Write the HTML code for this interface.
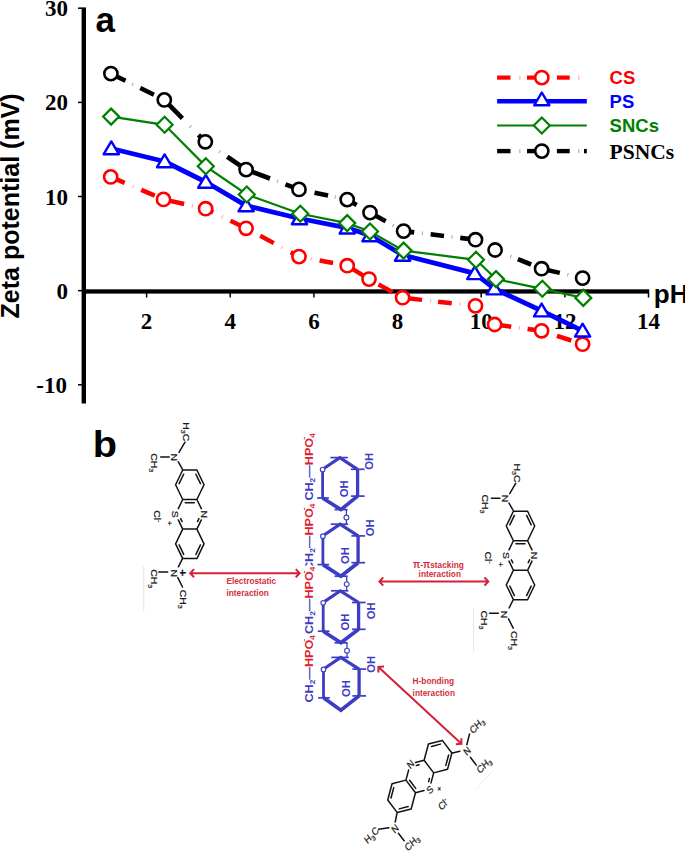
<!DOCTYPE html><html><head><meta charset="utf-8"><style>html,body{margin:0;padding:0;background:#fff;overflow:hidden;}svg{display:block;}</style></head><body><svg width="685" height="854" viewBox="0 0 685 854">
<rect width="685" height="854" fill="#fff"/>
<rect x="81.6" y="7.4" width="4.4" height="396.1" fill="#000"/>
<line x1="78" y1="8.2" x2="82" y2="8.2" stroke="#000" stroke-width="1.5"/>
<line x1="78" y1="102.4" x2="82" y2="102.4" stroke="#000" stroke-width="1.5"/>
<line x1="78" y1="196.5" x2="82" y2="196.5" stroke="#000" stroke-width="1.5"/>
<line x1="78" y1="290.65" x2="82" y2="290.65" stroke="#000" stroke-width="1.5"/>
<line x1="78" y1="384.8" x2="82" y2="384.8" stroke="#000" stroke-width="1.5"/>
<rect x="82" y="289.3" width="567.2" height="4.3" fill="#000"/>
<line x1="146.6" y1="293" x2="146.6" y2="297.5" stroke="#000" stroke-width="1.5"/>
<line x1="230.2" y1="293" x2="230.2" y2="297.5" stroke="#000" stroke-width="1.5"/>
<line x1="313.9" y1="293" x2="313.9" y2="297.5" stroke="#000" stroke-width="1.5"/>
<line x1="397.6" y1="293" x2="397.6" y2="297.5" stroke="#000" stroke-width="1.5"/>
<line x1="481.2" y1="293" x2="481.2" y2="297.5" stroke="#000" stroke-width="1.5"/>
<line x1="564.9" y1="293" x2="564.9" y2="297.5" stroke="#000" stroke-width="1.5"/>
<line x1="648.5" y1="293" x2="648.5" y2="297.5" stroke="#000" stroke-width="1.5"/>
<text transform="translate(68.0,16.2) scale(1,1.03)" font-family="Liberation Serif" font-weight="bold" font-size="23" text-anchor="end">30</text>
<text transform="translate(68.0,110.4) scale(1,1.03)" font-family="Liberation Serif" font-weight="bold" font-size="23" text-anchor="end">20</text>
<text transform="translate(68.0,204.5) scale(1,1.03)" font-family="Liberation Serif" font-weight="bold" font-size="23" text-anchor="end">10</text>
<text transform="translate(68.0,298.6) scale(1,1.03)" font-family="Liberation Serif" font-weight="bold" font-size="23" text-anchor="end">0</text>
<text transform="translate(66.9,392.8) scale(1,1.03)" font-family="Liberation Serif" font-weight="bold" font-size="23" text-anchor="end">-10</text>
<text transform="translate(146.6,329.2) scale(1,1.03)" font-family="Liberation Serif" font-weight="bold" font-size="23" text-anchor="middle">2</text>
<text transform="translate(230.2,329.2) scale(1,1.03)" font-family="Liberation Serif" font-weight="bold" font-size="23" text-anchor="middle">4</text>
<text transform="translate(313.9,329.2) scale(1,1.03)" font-family="Liberation Serif" font-weight="bold" font-size="23" text-anchor="middle">6</text>
<text transform="translate(397.6,329.2) scale(1,1.03)" font-family="Liberation Serif" font-weight="bold" font-size="23" text-anchor="middle">8</text>
<text transform="translate(481.2,329.2) scale(1,1.03)" font-family="Liberation Serif" font-weight="bold" font-size="23" text-anchor="middle">10</text>
<text transform="translate(564.9,329.2) scale(1,1.03)" font-family="Liberation Serif" font-weight="bold" font-size="23" text-anchor="middle">12</text>
<text transform="translate(648.5,329.2) scale(1,1.03)" font-family="Liberation Serif" font-weight="bold" font-size="23" text-anchor="middle">14</text>
<text x="653.8" y="302.9" font-family="Liberation Sans" font-weight="bold" font-size="26">pH</text>
<text x="95.5" y="32.3" font-family="Liberation Sans" font-weight="bold" font-size="35">a</text>
<text transform="translate(18.7,318.4) rotate(-90)" font-family="Liberation Sans" font-weight="bold" font-size="25">Zeta potential (mV)</text>
<path d="M110.70,176.90L124.69,182.86M141.22,189.91L154.78,195.68M163.50,199.40L184.13,203.96M205.60,208.70L213.22,212.39M230.44,220.72L246.10,228.30M260.21,235.85L273.83,243.13M290.68,252.15L299.00,256.60M319.61,260.49L333.06,263.03M347.20,265.70L369.00,279.10M378.52,284.37L392.58,292.15M402.60,297.70L422.10,299.87M438.10,301.64L451.76,303.16M494.60,324.50L511.23,326.73M527.59,328.92L541.60,330.80M556.93,335.81L571.30,340.51" stroke="#ff0000" stroke-width="4.5" fill="none"/><path d="M132.74,186.29L133.66,186.69M191.88,205.67L192.86,205.89M221.89,216.58L222.79,217.02M281.54,247.26L282.42,247.73M310.70,258.81L311.68,258.99M430.17,300.76L431.16,300.87M459.69,304.04L460.69,304.15M518.87,327.75L519.86,327.89" stroke="#ff0000" stroke-width="3.6" fill="none" opacity="0.35"/>
<polyline points="111.3,148.5 164.6,161.5 205.8,182.0 246.1,205.6 299.5,218.5 347.2,227.8 370.0,235.5 402.6,255.0 474.8,273.4 494.3,288.7 541.6,310.7 582.6,330.8" fill="none" stroke="#0000ff" stroke-width="4.8" stroke-linejoin="round"/>
<polyline points="111.1,116.6 164.6,124.8 205.8,166.3 246.8,194.5 300.3,213.8 347.2,223.1 370.0,231.5 403.6,250.6 476.0,259.8 496.0,279.1 542.3,288.8 583.3,297.9" fill="none" stroke="#008000" stroke-width="2.2"/>
<path d="M110.90,73.60L125.50,80.79M140.27,88.06L153.94,94.80M164.30,99.90L182.40,118.40M198.47,134.82L205.30,141.80M227.26,156.76L246.10,169.60M246.10,169.60L269.93,178.52M285.46,184.33L299.00,189.40M314.52,192.68L328.08,195.55M347.20,199.60L356.71,205.02M370.00,212.60L385.65,221.22M403.60,231.10L414.24,232.37M430.67,234.34L444.02,235.94M460.21,237.87L475.50,239.70M517.88,259.16L531.16,264.50M541.60,268.70L559.80,272.87" stroke="#000000" stroke-width="4.6" fill="none"/><path d="M132.07,84.03L132.97,84.47M190.11,126.28L190.81,126.99M219.35,151.38L220.18,151.94M277.12,181.21L278.06,181.56M334.67,196.95L335.65,197.16M392.73,225.11L393.60,225.60M421.92,233.29L422.91,233.41M451.61,236.84L452.60,236.96M510.35,256.13L511.28,256.51M567.38,274.61L568.36,274.83" stroke="#000000" stroke-width="3.6" fill="none" opacity="0.35"/>
<circle cx="110.7" cy="176.9" r="6.6" fill="#fff" stroke="#ff0000" stroke-width="2.6"/>
<circle cx="163.5" cy="199.4" r="6.6" fill="#fff" stroke="#ff0000" stroke-width="2.6"/>
<circle cx="205.6" cy="208.7" r="6.6" fill="#fff" stroke="#ff0000" stroke-width="2.6"/>
<circle cx="246.1" cy="228.3" r="6.6" fill="#fff" stroke="#ff0000" stroke-width="2.6"/>
<circle cx="299.0" cy="256.6" r="6.6" fill="#fff" stroke="#ff0000" stroke-width="2.6"/>
<circle cx="347.2" cy="265.7" r="6.6" fill="#fff" stroke="#ff0000" stroke-width="2.6"/>
<circle cx="369.0" cy="279.1" r="6.6" fill="#fff" stroke="#ff0000" stroke-width="2.6"/>
<circle cx="402.6" cy="297.7" r="6.6" fill="#fff" stroke="#ff0000" stroke-width="2.6"/>
<circle cx="475.5" cy="305.8" r="6.6" fill="#fff" stroke="#ff0000" stroke-width="2.6"/>
<circle cx="494.6" cy="324.5" r="6.6" fill="#fff" stroke="#ff0000" stroke-width="2.6"/>
<circle cx="541.6" cy="330.8" r="6.6" fill="#fff" stroke="#ff0000" stroke-width="2.6"/>
<circle cx="582.6" cy="344.2" r="6.6" fill="#fff" stroke="#ff0000" stroke-width="2.6"/>
<path d="M111.3,141.4 L118.9,154.2 L103.7,154.2 Z" fill="#fff" stroke="#0000ff" stroke-width="2.4" stroke-linejoin="round"/>
<path d="M164.6,154.4 L172.2,167.2 L157.0,167.2 Z" fill="#fff" stroke="#0000ff" stroke-width="2.4" stroke-linejoin="round"/>
<path d="M205.8,174.9 L213.4,187.7 L198.2,187.7 Z" fill="#fff" stroke="#0000ff" stroke-width="2.4" stroke-linejoin="round"/>
<path d="M246.1,198.5 L253.7,211.3 L238.5,211.3 Z" fill="#fff" stroke="#0000ff" stroke-width="2.4" stroke-linejoin="round"/>
<path d="M299.5,211.4 L307.1,224.2 L291.9,224.2 Z" fill="#fff" stroke="#0000ff" stroke-width="2.4" stroke-linejoin="round"/>
<path d="M347.2,220.7 L354.8,233.5 L339.6,233.5 Z" fill="#fff" stroke="#0000ff" stroke-width="2.4" stroke-linejoin="round"/>
<path d="M370.0,228.4 L377.6,241.2 L362.4,241.2 Z" fill="#fff" stroke="#0000ff" stroke-width="2.4" stroke-linejoin="round"/>
<path d="M402.6,247.9 L410.2,260.7 L395.0,260.7 Z" fill="#fff" stroke="#0000ff" stroke-width="2.4" stroke-linejoin="round"/>
<path d="M474.8,266.3 L482.4,279.1 L467.2,279.1 Z" fill="#fff" stroke="#0000ff" stroke-width="2.4" stroke-linejoin="round"/>
<path d="M494.3,281.6 L501.9,294.4 L486.7,294.4 Z" fill="#fff" stroke="#0000ff" stroke-width="2.4" stroke-linejoin="round"/>
<path d="M541.6,303.6 L549.2,316.4 L534.0,316.4 Z" fill="#fff" stroke="#0000ff" stroke-width="2.4" stroke-linejoin="round"/>
<path d="M582.6,323.7 L590.2,336.5 L575.0,336.5 Z" fill="#fff" stroke="#0000ff" stroke-width="2.4" stroke-linejoin="round"/>
<path d="M111.1,108.6 L119.1,116.6 L111.1,124.6 L103.1,116.6 Z" fill="#fff" stroke="#008000" stroke-width="2.2" stroke-linejoin="miter"/>
<path d="M164.6,116.8 L172.6,124.8 L164.6,132.8 L156.6,124.8 Z" fill="#fff" stroke="#008000" stroke-width="2.2" stroke-linejoin="miter"/>
<path d="M205.8,158.3 L213.8,166.3 L205.8,174.3 L197.8,166.3 Z" fill="#fff" stroke="#008000" stroke-width="2.2" stroke-linejoin="miter"/>
<path d="M246.8,186.5 L254.8,194.5 L246.8,202.5 L238.8,194.5 Z" fill="#fff" stroke="#008000" stroke-width="2.2" stroke-linejoin="miter"/>
<path d="M300.3,205.8 L308.3,213.8 L300.3,221.8 L292.3,213.8 Z" fill="#fff" stroke="#008000" stroke-width="2.2" stroke-linejoin="miter"/>
<path d="M347.2,215.1 L355.2,223.1 L347.2,231.1 L339.2,223.1 Z" fill="#fff" stroke="#008000" stroke-width="2.2" stroke-linejoin="miter"/>
<path d="M370.0,223.5 L378.0,231.5 L370.0,239.5 L362.0,231.5 Z" fill="#fff" stroke="#008000" stroke-width="2.2" stroke-linejoin="miter"/>
<path d="M403.6,242.6 L411.6,250.6 L403.6,258.6 L395.6,250.6 Z" fill="#fff" stroke="#008000" stroke-width="2.2" stroke-linejoin="miter"/>
<path d="M476.0,251.8 L484.0,259.8 L476.0,267.8 L468.0,259.8 Z" fill="#fff" stroke="#008000" stroke-width="2.2" stroke-linejoin="miter"/>
<path d="M496.0,271.1 L504.0,279.1 L496.0,287.1 L488.0,279.1 Z" fill="#fff" stroke="#008000" stroke-width="2.2" stroke-linejoin="miter"/>
<path d="M542.3,280.8 L550.3,288.8 L542.3,296.8 L534.3,288.8 Z" fill="#fff" stroke="#008000" stroke-width="2.2" stroke-linejoin="miter"/>
<path d="M583.3,289.9 L591.3,297.9 L583.3,305.9 L575.3,297.9 Z" fill="#fff" stroke="#008000" stroke-width="2.2" stroke-linejoin="miter"/>
<circle cx="110.9" cy="73.6" r="6.6" fill="#fff" stroke="#000000" stroke-width="2.6"/>
<circle cx="164.3" cy="99.9" r="6.6" fill="#fff" stroke="#000000" stroke-width="2.6"/>
<circle cx="205.3" cy="141.8" r="6.6" fill="#fff" stroke="#000000" stroke-width="2.6"/>
<circle cx="246.1" cy="169.6" r="6.6" fill="#fff" stroke="#000000" stroke-width="2.6"/>
<circle cx="299.0" cy="189.4" r="6.6" fill="#fff" stroke="#000000" stroke-width="2.6"/>
<circle cx="347.2" cy="199.6" r="6.6" fill="#fff" stroke="#000000" stroke-width="2.6"/>
<circle cx="370.0" cy="212.6" r="6.6" fill="#fff" stroke="#000000" stroke-width="2.6"/>
<circle cx="403.6" cy="231.1" r="6.6" fill="#fff" stroke="#000000" stroke-width="2.6"/>
<circle cx="475.5" cy="239.7" r="6.6" fill="#fff" stroke="#000000" stroke-width="2.6"/>
<circle cx="495.1" cy="250.0" r="6.6" fill="#fff" stroke="#000000" stroke-width="2.6"/>
<circle cx="541.6" cy="268.7" r="6.6" fill="#fff" stroke="#000000" stroke-width="2.6"/>
<circle cx="582.6" cy="278.1" r="6.6" fill="#fff" stroke="#000000" stroke-width="2.6"/>
<line x1="497.1" y1="77.6" x2="510.5" y2="77.6" stroke="#ff0000" stroke-width="4.2"/><line x1="527" y1="77.6" x2="536" y2="77.6" stroke="#ff0000" stroke-width="4.2"/><line x1="556.9" y1="77.6" x2="569.7" y2="77.6" stroke="#ff0000" stroke-width="4.2"/><line x1="519.3" y1="77.6" x2="520.5" y2="77.6" stroke="#ff0000" stroke-width="4.2" opacity="0.3"/><line x1="578.2" y1="77.6" x2="579.4000000000001" y2="77.6" stroke="#ff0000" stroke-width="4.2" opacity="0.3"/>
<circle cx="541.8" cy="77.6" r="6.6" fill="#fff" stroke="#ff0000" stroke-width="2.6"/>
<line x1="497.1" y1="101.3" x2="586.8" y2="101.3" stroke="#0000ff" stroke-width="4.6"/>
<path d="M541.8,92.5 L549.4,105.3 L534.2,105.3 Z" fill="#fff" stroke="#0000ff" stroke-width="2.4" stroke-linejoin="round"/>
<line x1="497.1" y1="125.5" x2="586.8" y2="125.5" stroke="#008000" stroke-width="2.2"/>
<path d="M541.8,117.5 L549.8,125.5 L541.8,133.5 L533.8,125.5 Z" fill="#fff" stroke="#008000" stroke-width="2.2" stroke-linejoin="miter"/>
<line x1="497.1" y1="151.1" x2="510.5" y2="151.1" stroke="#000000" stroke-width="4.4"/><line x1="527" y1="151.1" x2="536" y2="151.1" stroke="#000000" stroke-width="4.4"/><line x1="556.9" y1="151.1" x2="569.7" y2="151.1" stroke="#000000" stroke-width="4.4"/><line x1="519.3" y1="151.1" x2="520.5" y2="151.1" stroke="#000000" stroke-width="4.4" opacity="0.3"/><line x1="578.2" y1="151.1" x2="579.4000000000001" y2="151.1" stroke="#000000" stroke-width="4.4" opacity="0.3"/>
<circle cx="541.8" cy="151.1" r="6.6" fill="#fff" stroke="#000000" stroke-width="2.6"/>
<line x1="584" y1="151.1" x2="586.8" y2="151.1" stroke="#000" stroke-width="4.4"/>
<text x="609.6" y="84.2" font-family="Liberation Sans" font-weight="bold" font-size="18.5" fill="#ff0000">CS</text>
<text x="609.6" y="107.8" font-family="Liberation Sans" font-weight="bold" font-size="18.5" fill="#0000ff">PS</text>
<text x="609.6" y="132" font-family="Liberation Sans" font-weight="bold" font-size="18.5" fill="#008000">SNCs</text>
<text x="609.6" y="159.1" font-family="Liberation Serif" font-weight="bold" font-size="21.5" fill="#000">PSNCs</text>
<line x1="143.8" y1="566" x2="143.8" y2="611" stroke="#e4e4e4" stroke-width="1"/><line x1="473.6" y1="608" x2="473.6" y2="652" stroke="#e4e4e4" stroke-width="1"/><line x1="474.5" y1="791" x2="493.5" y2="770" stroke="#ececec" stroke-width="1"/><g font-family="Liberation Sans" fill="#161616" stroke="#161616" stroke-width="0.2"><path d="M182.70,470.03L196.90,470.03M196.90,470.03L204.00,484.79M204.00,484.79L196.90,499.54M196.90,499.54L182.70,499.54M182.70,499.54L175.60,484.79M175.60,484.79L182.70,470.03M182.70,499.54L178.30,508.69M178.30,519.91L182.70,529.06M196.90,499.54L201.30,508.69M201.30,519.91L196.90,529.06M182.70,529.06L196.90,529.06M182.70,529.06L175.60,543.81M175.60,543.81L182.70,558.57M182.70,558.57L196.90,558.57M196.90,558.57L204.00,543.81M204.00,543.81L196.90,529.06M183.67,474.25L179.13,483.69M195.93,474.25L200.47,483.69M185.26,502.66L194.34,502.66M180.69,518.64L182.11,521.59M198.91,518.64L197.49,521.59M179.13,544.91L183.67,554.35M200.47,544.91L195.93,554.35M182.50,469.30L178.30,461.90M169.20,457.10L160.70,457.10M179.00,452.40L185.00,442.20M182.70,558.10L178.40,566.80M167.60,572.10L158.80,572.10M177.80,577.60L182.50,587.00" stroke="#121212" stroke-width="1.5" fill="none" stroke-linecap="round"/><text transform="matrix(0.0000,1.2000,-1.0000,0.0000,171.30,457.20)" font-size="8.7" text-anchor="middle" >N</text><text transform="matrix(0.0000,1.2000,-1.0000,0.0000,172.00,514.30)" font-size="8.7" text-anchor="middle" >S</text><text transform="matrix(0.0000,1.2000,-1.0000,0.0000,200.60,514.30)" font-size="8.7" text-anchor="middle" >N</text><text transform="matrix(0.0000,1.2000,-1.0000,0.0000,170.60,573.30)" font-size="8.7" text-anchor="middle" >N</text><text transform="matrix(0.0000,1.2000,-1.0000,0.0000,183.20,422.30)" font-size="8.7" text-anchor="start" >H<tspan font-size="6" dy="2.2">3</tspan><tspan dy="-2.2">C</tspan></text><text transform="matrix(0.0000,1.2000,-1.0000,0.0000,151.30,453.20)" font-size="8.7" text-anchor="start" >CH<tspan font-size="6" dy="2.2">3</tspan></text><text transform="matrix(0.0000,1.2000,-1.0000,0.0000,150.60,569.20)" font-size="8.7" text-anchor="start" >CH<tspan font-size="6" dy="2.2">3</tspan></text><text transform="matrix(0.0000,1.2000,-1.0000,0.0000,179.90,589.70)" font-size="8.7" text-anchor="start" >CH<tspan font-size="6" dy="2.2">3</tspan></text><text transform="matrix(0.0000,1.2000,-1.0000,0.0000,153.90,510.20)" font-size="8.7" text-anchor="start" >Cl<tspan font-size="6" dy="-3">-</tspan></text><text transform="matrix(0.0000,1.2000,-1.0000,0.0000,166.90,523.30)" font-size="7" text-anchor="middle" >+</text><text transform="matrix(0.0000,1.2000,-1.0000,0.0000,179.40,572.70)" font-size="10" text-anchor="middle" font-weight="bold">+</text></g><g font-family="Liberation Sans" fill="#161616" stroke="#161616" stroke-width="0.2"><path d="M513.40,511.23L527.60,511.23M527.60,511.23L534.70,525.99M534.70,525.99L527.60,540.74M527.60,540.74L513.40,540.74M513.40,540.74L506.30,525.99M506.30,525.99L513.40,511.23M513.40,540.74L509.00,549.89M509.00,561.11L513.40,570.26M527.60,540.74L532.00,549.89M532.00,561.11L527.60,570.26M513.40,570.26L527.60,570.26M513.40,570.26L506.30,585.01M506.30,585.01L513.40,599.77M513.40,599.77L527.60,599.77M527.60,599.77L534.70,585.01M534.70,585.01L527.60,570.26M514.37,515.45L509.83,524.89M526.63,515.45L531.17,524.89M515.96,543.86L525.04,543.86M511.39,559.84L512.81,562.79M529.61,559.84L528.19,562.79M509.83,586.11L514.37,595.55M531.17,586.11L526.63,595.55M513.20,510.50L509.00,503.10M499.90,498.30L491.40,498.30M509.70,493.60L515.70,483.40M513.40,599.30L509.10,608.00M498.30,613.30L489.50,613.30M508.50,618.80L513.20,628.20" stroke="#121212" stroke-width="1.5" fill="none" stroke-linecap="round"/><text transform="matrix(0.0000,1.2000,-1.0000,0.0000,502.00,498.40)" font-size="8.7" text-anchor="middle" >N</text><text transform="matrix(0.0000,1.2000,-1.0000,0.0000,502.70,555.50)" font-size="8.7" text-anchor="middle" >S</text><text transform="matrix(0.0000,1.2000,-1.0000,0.0000,531.30,555.50)" font-size="8.7" text-anchor="middle" >N</text><text transform="matrix(0.0000,1.2000,-1.0000,0.0000,501.30,614.50)" font-size="8.7" text-anchor="middle" >N</text><text transform="matrix(0.0000,1.2000,-1.0000,0.0000,513.90,463.50)" font-size="8.7" text-anchor="start" >H<tspan font-size="6" dy="2.2">3</tspan><tspan dy="-2.2">C</tspan></text><text transform="matrix(0.0000,1.2000,-1.0000,0.0000,482.00,494.40)" font-size="8.7" text-anchor="start" >CH<tspan font-size="6" dy="2.2">3</tspan></text><text transform="matrix(0.0000,1.2000,-1.0000,0.0000,481.30,610.40)" font-size="8.7" text-anchor="start" >CH<tspan font-size="6" dy="2.2">3</tspan></text><text transform="matrix(0.0000,1.2000,-1.0000,0.0000,510.60,630.90)" font-size="8.7" text-anchor="start" >CH<tspan font-size="6" dy="2.2">3</tspan></text><text transform="matrix(0.0000,1.2000,-1.0000,0.0000,484.60,551.40)" font-size="8.7" text-anchor="start" >Cl<tspan font-size="6" dy="-3">-</tspan></text><text transform="matrix(0.0000,1.2000,-1.0000,0.0000,497.60,564.50)" font-size="7" text-anchor="middle" >+</text></g><g font-family="Liberation Sans" fill="#161616" stroke="#161616" stroke-width="0.2"><path d="M397.29,812.60L387.73,799.99M387.73,799.99L392.05,783.76M392.05,783.76L405.93,780.13M405.93,780.13L415.48,792.73M415.48,792.73L411.17,808.97M411.17,808.97L397.29,812.60M415.48,792.73L424.08,790.48M431.00,782.93L433.67,772.87M405.93,780.13L408.60,770.07M415.52,762.52L424.12,760.27M433.67,772.87L424.12,760.27M433.67,772.87L447.55,769.24M447.55,769.24L451.87,753.01M451.87,753.01L442.31,740.40M442.31,740.40L428.43,744.03M428.43,744.03L424.12,760.27M399.23,808.89L408.11,806.57M390.99,798.02L393.75,787.63M415.69,788.36L409.57,780.30M428.61,781.66L429.47,778.41M416.35,765.49L419.12,764.77M445.85,765.37L448.61,754.98M431.49,746.43L440.37,744.11M396.98,813.26L395.24,821.97M398.41,833.28L404.13,840.82M388.92,827.75L378.59,829.28M451.57,753.32L459.83,751.28M470.37,757.30L476.29,765.11M466.89,744.55L469.52,734.05" stroke="#121212" stroke-width="1.5" fill="none" stroke-linecap="round"/><text transform="matrix(0.7396,-0.8076,0.6730,0.8876,397.06,831.35)" font-size="8.7" text-anchor="middle" >N</text><text transform="matrix(0.7396,-0.8076,0.6730,0.8876,431.78,792.30)" font-size="8.7" text-anchor="middle" >S</text><text transform="matrix(0.7396,-0.8076,0.6730,0.8876,412.53,766.91)" font-size="8.7" text-anchor="middle" >N</text><text transform="matrix(0.7396,-0.8076,0.6730,0.8876,469.09,753.83)" font-size="8.7" text-anchor="middle" >N</text><text transform="matrix(0.7396,-0.8076,0.6730,0.8876,367.54,844.28)" font-size="8.7" text-anchor="start" >H<tspan font-size="6" dy="2.2">3</tspan><tspan dy="-2.2">C</tspan></text><text transform="matrix(0.7396,-0.8076,0.6730,0.8876,408.05,851.79)" font-size="8.7" text-anchor="start" >CH<tspan font-size="6" dy="2.2">3</tspan></text><text transform="matrix(0.7396,-0.8076,0.6730,0.8876,480.02,774.34)" font-size="8.7" text-anchor="start" >CH<tspan font-size="6" dy="2.2">3</tspan></text><text transform="matrix(0.7396,-0.8076,0.6730,0.8876,472.94,734.54)" font-size="8.7" text-anchor="start" >CH<tspan font-size="6" dy="2.2">3</tspan></text><text transform="matrix(0.7396,-0.8076,0.6730,0.8876,441.43,811.12)" font-size="8.7" text-anchor="start" >Cl<tspan font-size="6" dy="-3">-</tspan></text><text transform="matrix(0.7396,-0.8076,0.6730,0.8876,440.76,790.77)" font-size="7" text-anchor="middle" >+</text></g><g font-family="Liberation Sans" font-weight="bold" fill="#3c3cc4"><path d="M324.2,468.2L339.8,457.6L357.6,469.3" stroke="#3c3cc4" stroke-width="3.2" fill="none" stroke-linejoin="miter"/><line x1="322.6" y1="471.6" x2="322.6" y2="498.0" stroke="#3c3cc4" stroke-width="2.8"/><line x1="357.6" y1="469.3" x2="357.6" y2="496.1" stroke="#3c3cc4" stroke-width="3.3"/><path d="M322.6,498.0L340.9,509.6L357.6,496.1" stroke="#3c3cc4" stroke-width="3.7" fill="none" stroke-linejoin="miter"/><line x1="330.4" y1="457.6" x2="347.8" y2="457.6" stroke="#3c3cc4" stroke-width="1.7"/><line x1="350.9" y1="469.3" x2="364.6" y2="469.3" stroke="#3c3cc4" stroke-width="1.7"/><line x1="317.2" y1="498.0" x2="328.9" y2="498.0" stroke="#3c3cc4" stroke-width="1.7"/><line x1="350.9" y1="496.1" x2="364.6" y2="496.1" stroke="#3c3cc4" stroke-width="1.7"/><line x1="334.5" y1="509.6" x2="347.6" y2="509.6" stroke="#3c3cc4" stroke-width="1.7"/><circle cx="322.6" cy="469.6" r="2.3" fill="#fff" stroke="#3c3cc4" stroke-width="1.1"/><line x1="346.4" y1="509.6" x2="346.4" y2="524.1" stroke="#3c3cc4" stroke-width="1.3"/><circle cx="346.4" cy="517.5" r="2.4" fill="#fff" stroke="#3c3cc4" stroke-width="1.1"/><text transform="matrix(0.0000,-1.2000,1.1500,0.0000,347.80,497.30)" font-size="9.4" text-anchor="start">OH</text><text transform="matrix(0.0000,-1.2000,1.1500,0.0000,373.40,469.80)" font-size="9.4" text-anchor="start">OH</text><path d="M324.5,534.8L340.1,524.2L358.1,535.9" stroke="#3c3cc4" stroke-width="3.2" fill="none" stroke-linejoin="miter"/><line x1="322.9" y1="538.2" x2="322.9" y2="564.6" stroke="#3c3cc4" stroke-width="2.8"/><line x1="358.1" y1="535.9" x2="358.1" y2="562.7" stroke="#3c3cc4" stroke-width="3.3"/><path d="M322.9,564.6L340.9,576.2L358.1,562.7" stroke="#3c3cc4" stroke-width="3.7" fill="none" stroke-linejoin="miter"/><line x1="330.7" y1="524.2" x2="348.1" y2="524.2" stroke="#3c3cc4" stroke-width="1.7"/><line x1="351.4" y1="535.9" x2="365.1" y2="535.9" stroke="#3c3cc4" stroke-width="1.7"/><line x1="317.5" y1="564.6" x2="329.2" y2="564.6" stroke="#3c3cc4" stroke-width="1.7"/><line x1="351.4" y1="562.7" x2="365.1" y2="562.7" stroke="#3c3cc4" stroke-width="1.7"/><line x1="334.5" y1="576.2" x2="347.6" y2="576.2" stroke="#3c3cc4" stroke-width="1.7"/><circle cx="322.9" cy="536.2" r="2.3" fill="#fff" stroke="#3c3cc4" stroke-width="1.1"/><line x1="346.7" y1="576.2" x2="346.7" y2="590.7" stroke="#3c3cc4" stroke-width="1.3"/><circle cx="346.7" cy="584.1" r="2.4" fill="#fff" stroke="#3c3cc4" stroke-width="1.1"/><text transform="matrix(0.0000,-1.2000,1.1500,0.0000,348.60,563.90)" font-size="9.4" text-anchor="start">OH</text><text transform="matrix(0.0000,-1.2000,1.1500,0.0000,374.00,536.30)" font-size="9.4" text-anchor="start">OH</text><path d="M324.8,601.4L340.4,590.8L358.6,602.5" stroke="#3c3cc4" stroke-width="3.2" fill="none" stroke-linejoin="miter"/><line x1="323.2" y1="604.8" x2="323.2" y2="631.2" stroke="#3c3cc4" stroke-width="2.8"/><line x1="358.6" y1="602.5" x2="358.6" y2="629.3" stroke="#3c3cc4" stroke-width="3.3"/><path d="M323.2,631.2L340.9,642.8L358.6,629.3" stroke="#3c3cc4" stroke-width="3.7" fill="none" stroke-linejoin="miter"/><line x1="331.0" y1="590.8" x2="348.4" y2="590.8" stroke="#3c3cc4" stroke-width="1.7"/><line x1="351.9" y1="602.5" x2="365.6" y2="602.5" stroke="#3c3cc4" stroke-width="1.7"/><line x1="317.8" y1="631.2" x2="329.5" y2="631.2" stroke="#3c3cc4" stroke-width="1.7"/><line x1="351.9" y1="629.3" x2="365.6" y2="629.3" stroke="#3c3cc4" stroke-width="1.7"/><line x1="334.5" y1="642.8" x2="347.6" y2="642.8" stroke="#3c3cc4" stroke-width="1.7"/><circle cx="323.2" cy="602.8" r="2.3" fill="#fff" stroke="#3c3cc4" stroke-width="1.1"/><line x1="347.0" y1="642.8" x2="347.0" y2="657.3" stroke="#3c3cc4" stroke-width="1.3"/><circle cx="347.0" cy="650.7" r="2.4" fill="#fff" stroke="#3c3cc4" stroke-width="1.1"/><text transform="matrix(0.0000,-1.2000,1.1500,0.0000,349.40,630.50)" font-size="9.4" text-anchor="start">OH</text><text transform="matrix(0.0000,-1.2000,1.1500,0.0000,374.60,619.30)" font-size="9.4" text-anchor="start">OH</text><path d="M325.1,668.0L340.7,657.4L359.1,669.1" stroke="#3c3cc4" stroke-width="3.2" fill="none" stroke-linejoin="miter"/><line x1="323.5" y1="671.4" x2="323.5" y2="697.8" stroke="#3c3cc4" stroke-width="2.8"/><line x1="359.1" y1="669.1" x2="359.1" y2="695.9" stroke="#3c3cc4" stroke-width="3.3"/><path d="M323.5,697.8L340.9,710.2L359.1,695.9" stroke="#3c3cc4" stroke-width="3.7" fill="none" stroke-linejoin="miter"/><line x1="331.3" y1="657.4" x2="348.7" y2="657.4" stroke="#3c3cc4" stroke-width="1.7"/><line x1="352.4" y1="669.1" x2="366.1" y2="669.1" stroke="#3c3cc4" stroke-width="1.7"/><line x1="318.1" y1="697.8" x2="329.8" y2="697.8" stroke="#3c3cc4" stroke-width="1.7"/><line x1="352.4" y1="695.9" x2="366.1" y2="695.9" stroke="#3c3cc4" stroke-width="1.7"/><circle cx="323.5" cy="669.4" r="2.3" fill="#fff" stroke="#3c3cc4" stroke-width="1.1"/><text transform="matrix(0.0000,-1.2000,1.1500,0.0000,350.20,697.10)" font-size="9.4" text-anchor="start">OH</text><text transform="matrix(0.0000,-1.2000,1.1500,0.0000,375.20,672.70)" font-size="9.4" text-anchor="start">OH</text></g><g font-family="Liberation Sans" font-weight="bold"><text transform="matrix(0.0000,-1.2500,1.0000,0.0000,313.4,500.60)" font-size="10.1"><tspan fill="#3c3cc4">CH<tspan font-size="6.6" dy="1.9">2</tspan><tspan dy="-1.9">—</tspan></tspan><tspan fill="#e0202c">HPO<tspan font-size="6.6" dy="1.9">4</tspan><tspan font-size="7" dy="-9.6" dx="-5.2">-</tspan></tspan></text><text transform="matrix(0.0000,-1.2500,1.0000,0.0000,313.4,571.00)" font-size="10.1"><tspan fill="#3c3cc4">CH<tspan font-size="6.6" dy="1.9">2</tspan><tspan dy="-1.9">—</tspan></tspan><tspan fill="#e0202c">HPO<tspan font-size="6.6" dy="1.9">4</tspan><tspan font-size="7" dy="-9.6" dx="-5.2">-</tspan></tspan></text><rect x="303.5" y="565.6" width="10" height="5.5" fill="#fff"/><text transform="matrix(0.0000,-1.2500,1.0000,0.0000,313.4,634.00)" font-size="10.1"><tspan fill="#3c3cc4">CH<tspan font-size="6.6" dy="1.9">2</tspan><tspan dy="-1.9">—</tspan></tspan><tspan fill="#e0202c">HPO<tspan font-size="6.6" dy="1.9">4</tspan><tspan font-size="7" dy="-9.6" dx="-5.2">-</tspan></tspan></text><text transform="matrix(0.0000,-1.2500,1.0000,0.0000,313.4,702.50)" font-size="10.1"><tspan fill="#3c3cc4">CH<tspan font-size="6.6" dy="1.9">2</tspan><tspan dy="-1.9">—</tspan></tspan><tspan fill="#e0202c">HPO<tspan font-size="6.6" dy="1.9">4</tspan><tspan font-size="7" dy="-9.6" dx="-5.2">-</tspan></tspan></text></g><path d="M190.20,573.20L299.60,573.20M194.02,577.30L190.20,573.20L194.02,569.10M295.78,569.10L299.60,573.20L295.78,577.30" stroke="#d42038" stroke-width="2.0" fill="none" stroke-linejoin="miter"/><path d="M379.40,581.50L488.30,581.50M383.22,585.60L379.40,581.50L383.22,577.40M484.48,577.40L488.30,581.50L484.48,585.60" stroke="#d42038" stroke-width="2.0" fill="none" stroke-linejoin="miter"/><path d="M378.40,667.00L461.40,743.80M378.42,672.60L378.40,667.00L383.98,666.59M461.38,738.20L461.40,743.80L455.82,744.21" stroke="#d42038" stroke-width="2.0" fill="none" stroke-linejoin="miter"/><g font-family="Liberation Sans" font-weight="bold" fill="#d0303c"><text transform="matrix(1,0,0,1.2,226.4,584.3)" font-size="8.3">Electrostatic</text><text transform="matrix(1,0,0,1.2,226.4,596.4)" font-size="8.3">interaction</text><text transform="matrix(1,0,0,1.2,413.0,567.6)" font-size="8.3"><tspan font-size="9.4">π</tspan>-<tspan font-size="9.4">π</tspan>stacking</text><text transform="matrix(1,0,0,1.2,418.6,576.7)" font-size="8.3">interaction</text><text transform="matrix(1,0,0,1.2,412.6,683.6)" font-size="8.3">H-bonding</text><text transform="matrix(1,0,0,1.2,412.6,695.6)" font-size="8.3">interaction</text></g>
<text transform="translate(92.8,456.6) scale(1.06,1)" font-family="Liberation Sans" font-weight="bold" font-size="37.5">b</text>
</svg></body></html>
